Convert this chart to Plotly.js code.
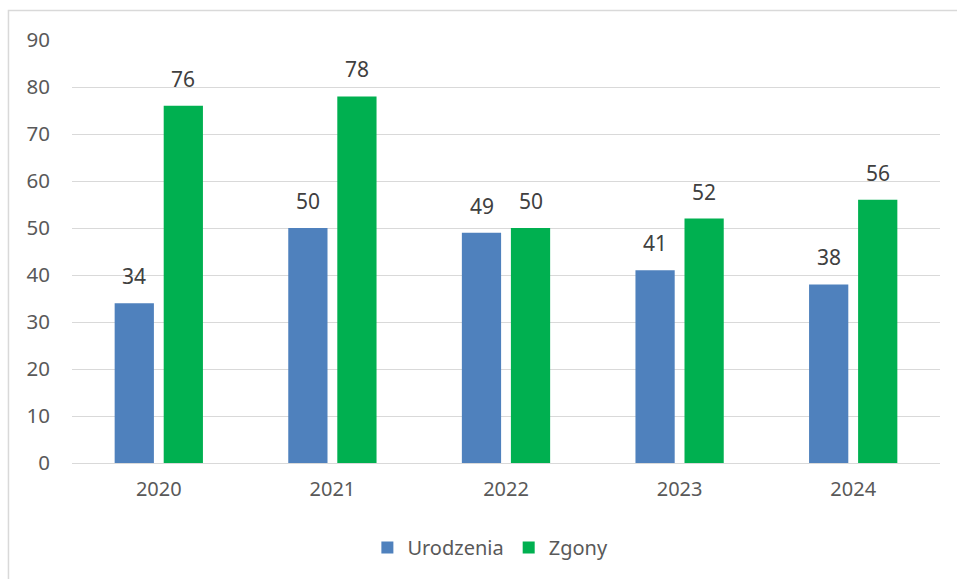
<!DOCTYPE html>
<html><head><meta charset="utf-8">
<script src="https://cdn.plot.ly/plotly-3.0.1.min.js"></script>
<style>html,body{margin:0;padding:0;background:#fff}</style>
</head><body>
<div id="chart" style="width:957px;height:579px"></div>
<script>
const years = ['2020','2021','2022','2023','2024'];
const urodzenia = [34, 50, 49, 41, 38];
const zgony = [76, 78, 50, 52, 56];
const seriesNames = ['Urodzenia', 'Zgony'];
const colors = ['#4F81BD', '#00B050'];

const font = "'Noto Sans', 'Open Sans', sans-serif";

const traces = [
  {type:'bar', name:seriesNames[0], x:years, y:urodzenia, marker:{color:colors[0]}, hoverinfo:'y'},
  {type:'bar', name:seriesNames[1], x:years, y:zgony, marker:{color:colors[1]}, hoverinfo:'y'}
];

// data labels: x is the category index of each value, offset to its bar within the group
const annotations = [];
[urodzenia, zgony].forEach((vals, si) => {
  vals.forEach((v, i) => {
    annotations.push({
      x: i, y: v, xref:'x', yref:'y', text: String(v), showarrow:false,
      xshift: si === 0 ? -24.5 : 24.5, yshift: 11, yanchor:'bottom',
      font:{family:font, size:21, color:'#404040'}
    });
  });
});

const layout = {
  width:957, height:579,
  margin:{l:72, r:17, t:40, b:116},
  paper_bgcolor:'#fff', plot_bgcolor:'#fff',
  barmode:'group', bargap:0.435, bargroupgap:0.2,
  font:{family:font, color:'#595959', size:20},
  xaxis:{type:'category', categoryorder:'array', categoryarray:years, range:[-0.5, years.length-0.5],
         autorange:false, showgrid:false, showline:true, linecolor:'#d9d9d9', linewidth:1,
         ticks:'', tickfont:{family:font, size:20, color:'#595959'}, ticklabelstandoff:8},
  yaxis:{range:[0,90], autorange:false, dtick:10, showgrid:true, gridcolor:'#d9d9d9', gridwidth:1,
         zeroline:false, showline:false, ticks:'', ticklabelstandoff:21,
         tickfont:{family:font, size:20.5, color:'#595959'}},
  legend:{orientation:'h', x:0.482, xanchor:'center', y:-0.2, yanchor:'middle',
          font:{family:font, size:20, color:'#595959'}},
  showlegend:true,
  annotations: annotations,
  shapes:[{type:'rect', xref:'paper', yref:'paper', x0:-0.0732, x1:1.2, y0:-0.5, y1:1.0697,
           line:{color:'#d9d9d9', width:1.5}, fillcolor:'rgba(0,0,0,0)', layer:'below'}]
};

Plotly.newPlot('chart', traces, layout, {displayModeBar:false, staticPlot:true});
</script>
</body></html>
